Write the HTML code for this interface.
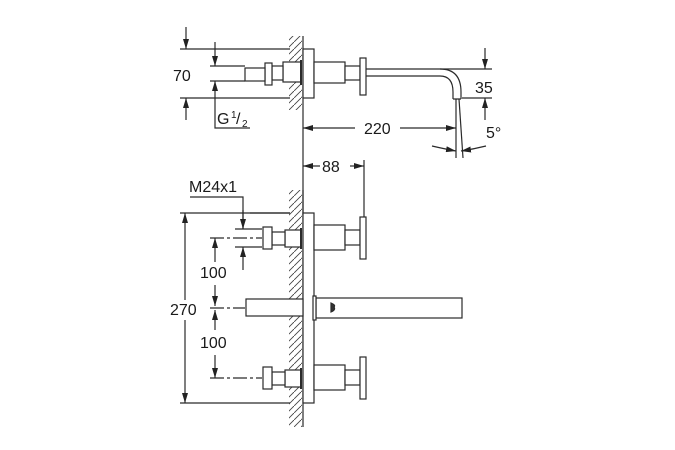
<!DOCTYPE html>
<html><head><meta charset="utf-8"><style>
html,body{margin:0;padding:0;background:#fff;}
svg{display:block;}
text{font-family:"Liberation Sans",Arial,sans-serif;fill:#1a1a1a;}
</style></head><body>
<svg width="675" height="450" viewBox="0 0 675 450" xmlns="http://www.w3.org/2000/svg">
<defs>
<marker id="a" viewBox="0 0 10 6" refX="10" refY="3" markerWidth="10" markerHeight="6" markerUnits="userSpaceOnUse" orient="auto"><path d="M0,0 L10,3 L0,6 z" fill="#222"/></marker>
<pattern id="h" width="7" height="7" patternUnits="userSpaceOnUse"><path d="M-1,8 L8,-1" stroke="#444" stroke-width="0.9"/></pattern>
</defs>
<g stroke="#2a2a2a" stroke-width="1.2" fill="none">
<!-- TOP VIEW -->
<rect x="289" y="36" width="13" height="74" fill="url(#h)" stroke="none"/>
<line x1="303" y1="36" x2="303" y2="158"/>
<rect x="303" y="49" width="11" height="49" fill="#fff"/>
<rect x="314" y="62" width="31" height="21" fill="#fff"/>
<rect x="345" y="66" width="15" height="14" fill="#fff"/>
<rect x="360" y="58" width="6" height="37" fill="#fff"/>
<rect x="283" y="62" width="18" height="20" fill="#fff"/>
<line x1="301" y1="60" x2="301" y2="85" stroke-width="2"/>
<rect x="272" y="66" width="11" height="14" fill="#fff"/>
<rect x="265" y="63" width="7" height="22" fill="#fff"/>
<rect x="245" y="68" width="20" height="13" fill="#fff"/>
<path d="M366,69 L440,69 Q461,69 461,92 L461,99 M366,76 L440,76 Q453,76 453,92 L453,99 M453,99 L461,99"/>
<!-- dim 70 -->
<line x1="180" y1="49" x2="290" y2="49"/>
<line x1="180" y1="98" x2="290" y2="98"/>
<line x1="186" y1="27" x2="186" y2="49" marker-end="url(#a)"/>
<line x1="186" y1="120" x2="186" y2="98" marker-end="url(#a)"/>
<line x1="210" y1="66" x2="245" y2="66"/>
<line x1="210" y1="81" x2="245" y2="81"/>
<line x1="215" y1="42" x2="215" y2="66" marker-end="url(#a)"/>
<line x1="215" y1="105" x2="215" y2="81" marker-end="url(#a)"/>
<polyline points="215,105 215,128 250,128"/>
<!-- dim 35 -->
<line x1="440" y1="69" x2="492" y2="69"/>
<line x1="462" y1="98" x2="492" y2="98"/>
<line x1="485" y1="48" x2="485" y2="69" marker-end="url(#a)"/>
<line x1="485" y1="120" x2="485" y2="98" marker-end="url(#a)"/>
<!-- dim 220 -->
<line x1="355" y1="128" x2="303" y2="128" marker-end="url(#a)"/>
<line x1="400" y1="128" x2="456" y2="128" marker-end="url(#a)"/>
<line x1="456" y1="99" x2="456" y2="158"/>
<line x1="459" y1="99" x2="463" y2="158"/>
<path d="M432,146 Q445,149 456,151" marker-end="url(#a)"/>
<path d="M486,146 Q474,149 461,151" marker-end="url(#a)"/>
<!-- dim 88 -->
<line x1="303" y1="158" x2="303" y2="215"/>
<line x1="364" y1="160" x2="364" y2="217"/>
<line x1="320" y1="166" x2="303" y2="166" marker-end="url(#a)"/>
<line x1="350" y1="166" x2="364" y2="166" marker-end="url(#a)"/>
<!-- BOTTOM VIEW -->
<rect x="289" y="190" width="13" height="237" fill="url(#h)" stroke="none"/>
<line x1="303" y1="190" x2="303" y2="427"/>
<rect x="303" y="213" width="11" height="190" fill="#fff"/>
<rect x="314" y="225" width="31" height="25" fill="#fff"/>
<rect x="345" y="230" width="15" height="15" fill="#fff"/>
<rect x="360" y="217" width="6" height="42" fill="#fff"/>
<rect x="285" y="230" width="16" height="17" fill="#fff"/>
<line x1="301" y1="228" x2="301" y2="249" stroke-width="2"/>
<rect x="272" y="232" width="13" height="13" fill="#fff"/>
<rect x="263" y="227" width="9" height="22" fill="#fff"/>
<rect x="314" y="365" width="31" height="25" fill="#fff"/>
<rect x="345" y="370" width="15" height="15" fill="#fff"/>
<rect x="360" y="357" width="6" height="42" fill="#fff"/>
<rect x="285" y="370" width="16" height="17" fill="#fff"/>
<line x1="301" y1="368" x2="301" y2="389" stroke-width="2"/>
<rect x="272" y="372" width="13" height="13" fill="#fff"/>
<rect x="263" y="367" width="9" height="22" fill="#fff"/>
<rect x="316" y="298" width="146" height="20" fill="#fff"/>
<rect x="313" y="296" width="3" height="24" fill="#fff"/>
<rect x="246" y="299" width="57" height="17" fill="#fff"/>
<path d="M331,303 L331,312 Q336,310 334,307 Q336,305 331,303z" fill="#333"/>
<line x1="180" y1="213" x2="290" y2="213"/>
<line x1="180" y1="403" x2="290" y2="403"/>
<line x1="185" y1="300" x2="185" y2="213" marker-end="url(#a)"/>
<line x1="185" y1="320" x2="185" y2="403" marker-end="url(#a)"/>
<line x1="210" y1="238" x2="262" y2="238" stroke-dasharray="14,3,3,3"/>
<line x1="210" y1="308" x2="245" y2="308" stroke-dasharray="14,3,3,3"/>
<line x1="210" y1="378" x2="262" y2="378" stroke-dasharray="14,3,3,3"/>
<line x1="215" y1="262" x2="215" y2="238" marker-end="url(#a)"/>
<line x1="215" y1="285" x2="215" y2="306" marker-end="url(#a)"/>
<line x1="215" y1="330" x2="215" y2="310" marker-end="url(#a)"/>
<line x1="215" y1="355" x2="215" y2="378" marker-end="url(#a)"/>
<polyline points="190,197 243,197 243,229"/>
<line x1="243" y1="210" x2="243" y2="229" marker-end="url(#a)"/>
<line x1="235" y1="229" x2="262" y2="229"/>
<line x1="235" y1="247" x2="262" y2="247"/>
<line x1="243" y1="270" x2="243" y2="247" marker-end="url(#a)"/>
<line x1="250" y1="213" x2="290" y2="213"/>
</g>
<g font-size="16">
<text x="173" y="81">70</text>
<text x="217" y="124">G</text><text x="231" y="118" font-size="10">1</text><text x="236" y="124">/</text><text x="242" y="127" font-size="10">2</text>
<text x="475" y="93">35</text>
<text x="364" y="134">220</text>
<text x="486" y="138">5°</text>
<text x="322" y="172">88</text>
<text x="189" y="192">M24x1</text>
<text x="200" y="278">100</text>
<text x="170" y="315">270</text>
<text x="200" y="348">100</text>
</g>
</svg>
</body></html>
